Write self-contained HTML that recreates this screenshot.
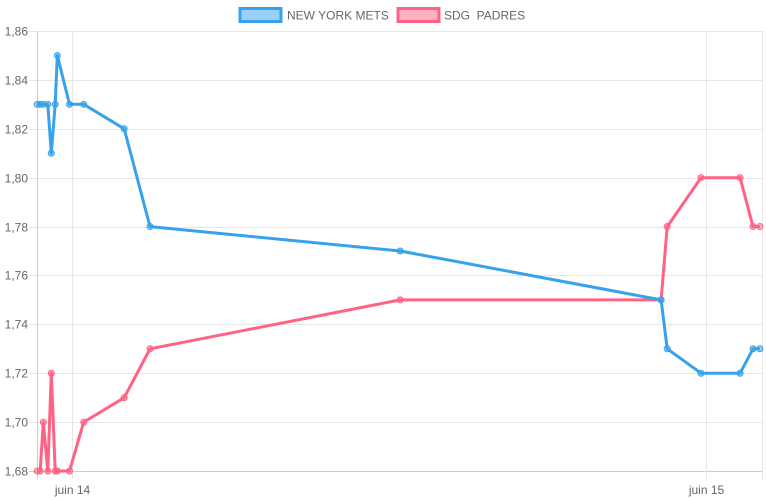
<!DOCTYPE html>
<html><head><meta charset="utf-8"><style>
body{margin:0;background:#fff;}
svg{display:block;font-family:"Liberation Sans",Arial,sans-serif;}
</style></head><body>
<svg id="c" width="766" height="500">
<g id="grid"></g>
<g id="axes"></g>
<g id="series"></g>
<g>
 <g>
  <rect x="240" y="8.5" width="41" height="13" fill="rgba(54,162,235,0.5)" stroke="#36a2eb" stroke-width="3"/>
  <text x="287" y="19.5" font-size="12" fill="#666">NEW YORK METS</text>
 </g>
 <g>
  <rect x="398" y="8.5" width="41" height="13" fill="rgba(255,99,132,0.5)" stroke="#ff6384" stroke-width="3"/>
  <text x="444" y="19.5" font-size="12" fill="#666" xml:space="preserve">SDG  PADRES</text>
 </g>
</g>
</svg>
<script>
// time in hours relative to "juin 14" 00:00
const times = [-1.32,-1.21,-1.09,-0.92,-0.79,-0.64,-0.56,-0.10,0.44,1.97,2.95,12.42,22.30,22.53,23.81,25.29,25.78,26.04];
const metsValues = [1.83,1.83,1.83,1.83,1.81,1.83,1.85,1.83,1.83,1.82,1.78,1.77,1.75,1.73,1.72,1.72,1.73,1.73];
const padresValues = [1.68,1.68,1.70,1.68,1.72,1.68,1.68,1.68,1.70,1.71,1.73,1.75,1.75,1.78,1.80,1.80,1.78,1.78];
const yTicks = [1.68,1.70,1.72,1.74,1.76,1.78,1.80,1.82,1.84,1.86];
const xTickHours = [0,24];
const xTickLabels = ["juin 14","juin 15"];

const NS="http://www.w3.org/2000/svg";
const L=37,R=762,T=31,B=471;
const xMin=-1.33,xMax=26.12,yMin=1.68,yMax=1.86;
const xs=h=>L+(h-xMin)/(xMax-xMin)*(R-L);
const ys=v=>B-(v-yMin)/(yMax-yMin)*(B-T);
function mk(tag,attrs,parent){const e=document.createElementNS(NS,tag);for(const k in attrs)e.setAttribute(k,attrs[k]);parent.appendChild(e);return e;}
const grid=document.getElementById('grid'),axes=document.getElementById('axes'),ser=document.getElementById('series');

yTicks.forEach((v,i)=>{
  const y=Math.round(ys(v))+0.5;
  const ln=mk('line',{x1:L-8,x2:R,y1:y,y2:y,stroke:i===0?'#ccc':'#e6e6e6','stroke-width':1},grid);
  
  
  const t=mk('text',{x:L-9,y:y+4,'font-size':12,fill:'#666','text-anchor':'end'},axes);
  t.textContent=v.toFixed(2).replace('.',',');
  
  
});
[L,R].forEach(x=>{
  const ln=mk('line',{x1:x+0.5,x2:x+0.5,y1:T,y2:B+8,stroke:x===L?'#ccc':'#e6e6e6'},grid);
  
  
});
xTickHours.forEach((h,i)=>{
  const x=Math.round(xs(h))+0.5;
  const ln=mk('line',{x1:x,x2:x,y1:T,y2:B+8,stroke:'#e6e6e6'},grid);
  
  
  const t=mk('text',{x:x,y:494,'font-size':12,fill:'#666','text-anchor':'middle'},axes);
  t.textContent=xTickLabels[i];
  
  
});

function drawSeries(vals,color,fill,name){
  const g=mk('g',{},ser);
  
  
  const d=vals.map((v,i)=>(i?'L':'M')+xs(times[i]).toFixed(1)+' '+ys(v).toFixed(1)).join(' ');
  const p=mk('path',{d:d,fill:'none',stroke:color,'stroke-width':3,'stroke-linejoin':'round'},g);
  
  
  vals.forEach((v,i)=>{
    const c=mk('circle',{cx:xs(times[i]),cy:ys(v),r:3,fill:fill,stroke:color,'stroke-width':1},g);
    
    
  });
}
drawSeries(padresValues,'#ff6384','rgba(255,99,132,0.5)','padres-series');
drawSeries(metsValues,'#36a2eb','rgba(54,162,235,0.5)','mets-series');
</script>
</body></html>
